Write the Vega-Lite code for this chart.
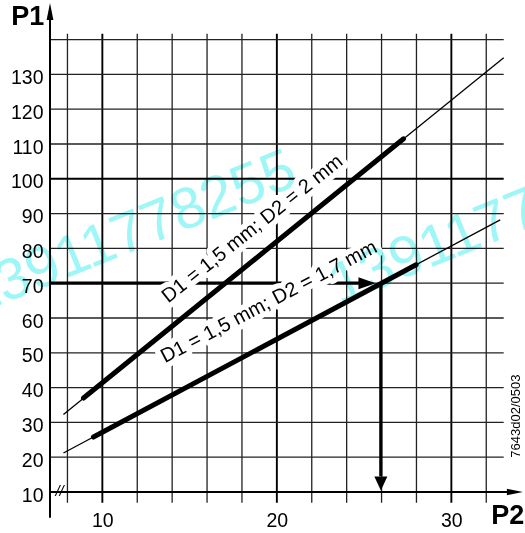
{
  "$schema": "https://vega.github.io/schema/vega-lite/v6.json",
  "autosize": {"type": "none"},
  "padding": {"left": 50, "top": 0, "right": 0, "bottom": 41},
  "width": 475,
  "height": 492,
  "background": "white",
  "config": {"view": {"stroke": null}, "text": {"font": "Liberation Sans"}},
  "datasets": {
    "vminor": [
      {"P2": 8, "P1": 6.9, "P1b": 141.7}, {"P2": 12, "P1": 6.9, "P1b": 141.7}, {"P2": 14, "P1": 6.9, "P1b": 141.7},
      {"P2": 16, "P1": 6.9, "P1b": 141.7}, {"P2": 18, "P1": 6.9, "P1b": 141.7}, {"P2": 22, "P1": 6.9, "P1b": 141.7},
      {"P2": 24, "P1": 6.9, "P1b": 141.7}, {"P2": 26, "P1": 6.9, "P1b": 141.7}, {"P2": 28, "P1": 6.9, "P1b": 141.7},
      {"P2": 32, "P1": 6.9, "P1b": 141.7}
    ],
    "vmajor": [{"P2": 10, "P1": 6.9, "P1b": 141.7}, {"P2": 20, "P1": 6.9, "P1b": 141.7}, {"P2": 30, "P1": 6.9, "P1b": 141.7}],
    "hminor": [
      {"P1": 20, "P2": 7.0, "P2b": 33.0}, {"P1": 30, "P2": 7.0, "P2b": 33.0}, {"P1": 40, "P2": 7.0, "P2b": 33.0},
      {"P1": 50, "P2": 7.0, "P2b": 33.0}, {"P1": 60, "P2": 7.0, "P2b": 33.0}, {"P1": 70, "P2": 7.0, "P2b": 33.0},
      {"P1": 80, "P2": 7.0, "P2b": 33.0}, {"P1": 90, "P2": 7.0, "P2b": 33.0}, {"P1": 110, "P2": 7.0, "P2b": 33.0},
      {"P1": 120, "P2": 7.0, "P2b": 33.0}, {"P1": 130, "P2": 7.0, "P2b": 33.0}, {"P1": 140, "P2": 7.0, "P2b": 33.0}
    ],
    "hmajor": [{"P1": 100, "P2": 7.0, "P2b": 33.0}],
    "axisLines": [
      {"P2": 7.0, "P2b": 33.3, "P1": 10, "P1b": 10},
      {"P2": 7.0, "P2b": 7.0, "P1": 2.6, "P1b": 148.5}
    ],
    "arrowLines": [
      {"P2": 7.0, "P2b": 25.0, "P1": 70, "P1b": 70},
      {"P2": 25.96, "P2b": 25.96, "P1": 70, "P1b": 14.5}
    ],
    "thin": [
      {"curve": "D2 = 2 mm", "P2": 7.77, "P1": 32.3},
      {"curve": "D2 = 2 mm", "P2": 33.0, "P1": 134.8},
      {"curve": "D2 = 1,7 mm", "P2": 7.77, "P1": 21.2},
      {"curve": "D2 = 1,7 mm", "P2": 32.8, "P1": 88.2}
    ],
    "thick": [
      {"curve": "D2 = 2 mm", "P2": 8.92, "P1": 37.0},
      {"curve": "D2 = 2 mm", "P2": 27.26, "P1": 111.5},
      {"curve": "D2 = 1,7 mm", "P2": 9.49, "P1": 25.8},
      {"curve": "D2 = 1,7 mm", "P2": 27.98, "P1": 75.3}
    ],
    "labelUpper": [{"text": "D1 = 1,5 mm; D2 = 2 mm", "P2": 18.6, "P1": 85.6}],
    "labelLower": [{"text": "D1 = 1,5 mm; D2 = 1,7 mm", "P2": 19.55, "P1": 64.6}],
    "tipUp": [{"P2": 7.0, "P1": 150.5}],
    "tipRight": [{"P2": 34.1, "P1": 10}],
    "tipArrowH": [{"P2": 25.65, "P1": 70}],
    "tipArrowV": [{"P2": 25.96, "P1": 10.46}],
    "breakMark": [{"text": "//", "P2": 7.55, "P1": 10.2}],
    "titleY": [{"text": "P1", "P2": 5.72, "P1": 146.6}],
    "titleX": [{"text": "P2", "P2": 33.23, "P1": 2.99}],
    "code": [{"text": "7643d02/0503", "P2": 33.7, "P1": 31.8}],
    "watermark": [
      {"text": "13911778255", "P2": 11.64, "P1": 84.2},
      {"text": "13911778255", "P2": 32.51, "P1": 87.2}
    ]
  },
  "encoding": {
    "x": {
      "field": "P2", "type": "quantitative",
      "scale": {"domain": [7.0, 34.22], "nice": false, "zero": false},
      "axis": {"values": [10, 20, 30], "title": null, "grid": false, "ticks": false, "domain": false,
        "labelFont": "Liberation Sans", "labelFontSize": 19.5, "labelColor": "#000", "labelPadding": 19, "labelBaseline": "top"}
    },
    "y": {
      "field": "P1", "type": "quantitative",
      "scale": {"domain": [10, 151.38], "nice": false, "zero": false},
      "axis": {"values": [10, 20, 30, 40, 50, 60, 70, 80, 90, 100, 110, 120, 130], "title": null, "grid": false, "ticks": false, "domain": false,
        "labelFont": "Liberation Sans", "labelFontSize": 19.5, "labelColor": "#000", "labelPadding": 7, "labelBaseline": "middle", "labelOffset": 3}
    }
  },
  "layer": [
    {"data": {"name": "vminor"}, "mark": {"type": "rule", "color": "#222", "strokeWidth": 1.3},
     "encoding": {"y2": {"field": "P1b"}}},
    {"data": {"name": "vmajor"}, "mark": {"type": "rule", "color": "#000", "strokeWidth": 1.9},
     "encoding": {"y2": {"field": "P1b"}}},
    {"data": {"name": "hminor"}, "mark": {"type": "rule", "color": "#222", "strokeWidth": 1.3},
     "encoding": {"x2": {"field": "P2b"}}},
    {"data": {"name": "hmajor"}, "mark": {"type": "rule", "color": "#000", "strokeWidth": 2},
     "encoding": {"x2": {"field": "P2b"}}},
    {"data": {"name": "axisLines"}, "mark": {"type": "rule", "color": "#000", "strokeWidth": 2},
     "encoding": {"x2": {"field": "P2b"}, "y2": {"field": "P1b"}}},
    {"data": {"name": "arrowLines"}, "mark": {"type": "rule", "color": "#000", "strokeWidth": 3.3},
     "encoding": {"x2": {"field": "P2b"}, "y2": {"field": "P1b"}}},
    {"data": {"name": "labelUpper"}, "mark": {"type": "text", "font": "Liberation Sans", "fontSize": 20, "angle": 321.5, "align": "center", "baseline": "middle", "fill": "white", "stroke": "white", "strokeWidth": 11, "strokeJoin": "round"},
     "encoding": {"text": {"field": "text"}}},
    {"data": {"name": "labelLower"}, "mark": {"type": "text", "font": "Liberation Sans", "fontSize": 20, "angle": 332.3, "align": "center", "baseline": "middle", "fill": "white", "stroke": "white", "strokeWidth": 11, "strokeJoin": "round"},
     "encoding": {"text": {"field": "text"}}},
    {"data": {"name": "thin"}, "mark": {"type": "line", "color": "#000", "strokeWidth": 1.3},
     "encoding": {"detail": {"field": "curve"}}},
    {"data": {"name": "thick"}, "mark": {"type": "line", "color": "#000", "strokeWidth": 5, "strokeCap": "round"},
     "encoding": {"detail": {"field": "curve"}}},
    {"data": {"name": "labelUpper"}, "mark": {"type": "text", "font": "Liberation Sans", "fontSize": 20, "angle": 321.5, "align": "center", "baseline": "middle", "color": "#000"},
     "encoding": {"text": {"field": "text"}}},
    {"data": {"name": "labelLower"}, "mark": {"type": "text", "font": "Liberation Sans", "fontSize": 20, "angle": 332.3, "align": "center", "baseline": "middle", "color": "#000"},
     "encoding": {"text": {"field": "text"}}},
    {"data": {"name": "tipUp"}, "mark": {"type": "point", "filled": true, "color": "#000", "opacity": 1, "strokeWidth": 0, "size": 289, "shape": "M0,0L-0.4,2L0.4,2Z"}},
    {"data": {"name": "tipRight"}, "mark": {"type": "point", "filled": true, "color": "#000", "opacity": 1, "strokeWidth": 0, "size": 256, "shape": "M0,0L-2,-0.4L-2,0.4Z"}},
    {"data": {"name": "tipArrowH"}, "mark": {"type": "point", "filled": true, "color": "#000", "opacity": 1, "strokeWidth": 0, "size": 289, "shape": "M0,0L-2,-0.7L-2,0.7Z"}},
    {"data": {"name": "tipArrowV"}, "mark": {"type": "point", "filled": true, "color": "#000", "opacity": 1, "strokeWidth": 0, "size": 196, "shape": "M0,0L-0.93,-2L0.93,-2Z"}},
    {"data": {"name": "breakMark"}, "mark": {"type": "text", "font": "Liberation Sans", "fontSize": 15, "fontStyle": "italic", "align": "center", "baseline": "middle", "color": "#000"},
     "encoding": {"text": {"field": "text"}}},
    {"data": {"name": "titleY"}, "mark": {"type": "text", "font": "Liberation Sans", "fontSize": 27, "fontWeight": "bold", "align": "center", "baseline": "middle", "color": "#000"},
     "encoding": {"text": {"field": "text"}}},
    {"data": {"name": "titleX"}, "mark": {"type": "text", "font": "Liberation Sans", "fontSize": 27, "fontWeight": "bold", "align": "center", "baseline": "middle", "color": "#000"},
     "encoding": {"text": {"field": "text"}}},
    {"data": {"name": "code"}, "mark": {"type": "text", "font": "Liberation Sans", "fontSize": 13, "angle": 270, "align": "center", "baseline": "middle", "color": "#000"},
     "encoding": {"text": {"field": "text"}}},
    {"data": {"name": "watermark"}, "mark": {"type": "text", "font": "Liberation Sans", "fontSize": 58, "angle": 338, "align": "center", "baseline": "middle", "color": "#9ef6f6", "blend": "multiply"},
     "encoding": {"text": {"field": "text"}}}
  ]
}
